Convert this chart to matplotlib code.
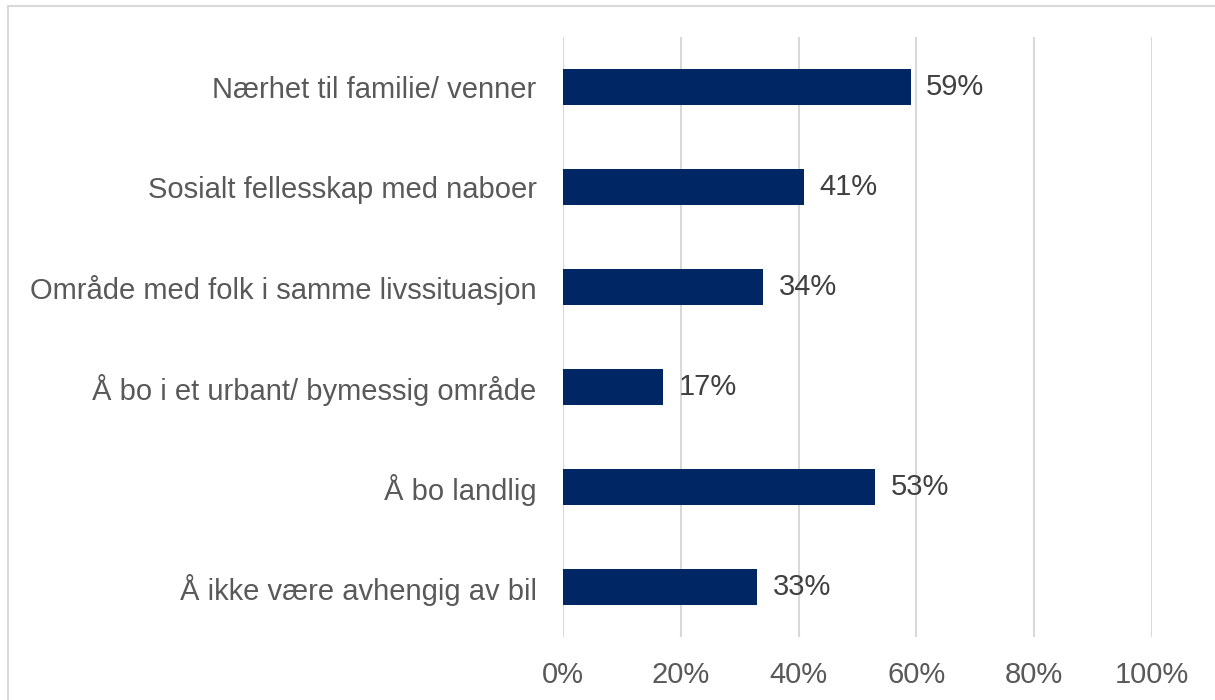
import matplotlib.pyplot as plt
from matplotlib.patches import Rectangle

categories = [
    "Nærhet til familie/ venner",
    "Sosialt fellesskap med naboer",
    "Område med folk i samme livssituasjon",
    "Å bo i et urbant/ bymessig område",
    "Å bo landlig",
    "Å ikke være avhengig av bil",
]
values = [59, 41, 34, 17, 53, 33]
ticks = [0, 20, 40, 60, 80, 100]
tick_labels = ["0%", "20%", "40%", "60%", "80%", "100%"]

bar_color = "#002663"
text_color = "#595959"
value_color = "#404040"
grid_color = "#D9D9D9"

plt.rcParams['font.family'] = ['Liberation Sans', 'DejaVu Sans']

fig = plt.figure(figsize=(12.15, 7), dpi=100)
# light frame at left/top like the source slide
fig.patches.append(Rectangle((8 / 1215, -0.1), 1.2, 0.1 + (700 - 6) / 700,
                             transform=fig.transFigure, fill=False,
                             edgecolor="#D9D9D9", linewidth=1.5))

ax = fig.add_axes([563 / 1215, 63 / 700, 589 / 1215, 600 / 700])

ypos = list(range(len(categories)))[::-1]
ax.barh(ypos, values, height=0.36, color=bar_color, zorder=3)

for y, v in zip(ypos, values):
    ax.text(v + 2.6, y, f"{v}%", va="center", ha="left",
            fontsize=21, color=value_color)

ax.set_xlim(0, 100)
ax.set_ylim(-0.5, len(categories) - 0.5)
ax.set_xticks(ticks)
ax.set_xticklabels(tick_labels, fontsize=21, color=text_color)
ax.set_yticks(ypos)
ax.set_yticklabels(categories, fontsize=21, color=text_color)
ax.tick_params(axis="x", length=0, pad=17)
ax.tick_params(axis="y", length=0, pad=19)

ax.grid(axis="x", color=grid_color, linewidth=1.5, zorder=0)
for s in ax.spines.values():
    s.set_visible(False)

fig.savefig("out.png", dpi=100)
